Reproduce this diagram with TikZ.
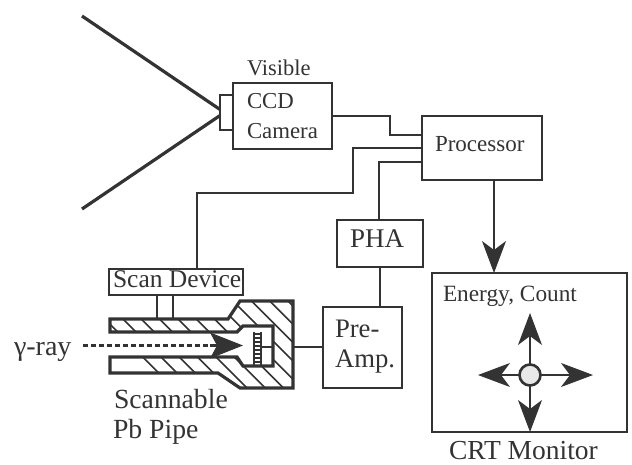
\documentclass[tikz,border=0pt]{standalone}
\usepackage{fontspec}
\setmainfont{Liberation Serif}
\usetikzlibrary{arrows.meta}
\definecolor{ink}{HTML}{333333}
\definecolor{txtc}{HTML}{333333}
\newcommand{\fs}[1]{\fontsize{#1}{#1}\selectfont}
\tikzset{
  boxn/.style={draw=ink,line width=2.6pt,rectangle,inner sep=0pt,outer sep=0pt},
  lbl/.style={inner sep=0pt,outer sep=0pt,anchor=base west,text=txtc},
  wire/.style={draw=ink,line width=2.2pt,line join=miter},
  bigarrow/.style={draw=ink,line width=2.6pt,-{Stealth[length=32pt,width=24pt,inset=9pt,fill=ink,line width=1pt]}},
  hatchl/.style={draw=ink,line width=1.6pt},
}
\begin{document}
\begin{tikzpicture}[x=1pt,y=-1pt]
\useasboundingbox (0,0) rectangle (632,464);
% boxes
\node[boxn,minimum width=99pt,minimum height=66pt] (cam) at (282.5,116) {};
\node[boxn,minimum width=13pt,minimum height=35pt,anchor=east] (lens) at (233,112.5) {};
\node[boxn,minimum width=120pt,minimum height=64pt] (proc) at (482,148) {};
\node[boxn,minimum width=86pt,minimum height=47pt] (pha) at (380,243.5) {};
\node[boxn,minimum width=79pt,minimum height=81pt] (pre) at (362.5,347.5) {};
\node[boxn,minimum width=195pt,minimum height=159pt] (crt) at (529.5,352.5) {};
\node[boxn,minimum width=134pt,minimum height=26pt] (scan) at (176,282) {};
% cone
\coordinate (c1) at (82,16);
\coordinate (c2) at (82,209);
\draw[ink,line width=3.2pt] (c1) -- ([yshift=3pt]lens.west);
\draw[ink,line width=3.2pt] (c2) -- ([yshift=-3pt]lens.west);
% wires
\draw[wire] (cam.east) -- (390,116) -- (390,135) -- ([yshift=13pt]proc.west);
\draw[wire] (proc.west) -- (353,148) -- (353,193) -- (197,193) -- (scan.north -| 197,0);
\draw[wire] ([yshift=-14pt]proc.west) -- (379,162) -- (pha.north -| 379,0);
\draw[wire] (pha.south) -- (pre.north -| pha.south);
% pipe
\coordinate (sa) at (157,295); \coordinate (sb) at (173,295);
\draw[wire] (sa) -- (157,319);
\draw[wire] (sb) -- (173,319);
\begin{scope}
\clip (110,319)--(228,319)--(240,301)--(293,301)--(293,388)--(240,388)--(218,373)--(110,373)--(110,357)--(237,357)--(243,366)--(273,366)--(273,326)--(243,326)--(237,332)--(110,332)--cycle;
\foreach \k in {-1,...,11}{
  \pgfmathsetmacro{\cc}{196-18.3*\k}
  \draw[hatchl] (100,100+\cc) -- (300,300+\cc);
}
\end{scope}
\draw[ink,line width=3.2pt,line join=miter] (110,319)--(228,319)--(240,301)--(293,301)--(293,388)--(240,388)--(218,373)--(110,373)--(110,357)--(237,357)--(243,366)--(273,366)--(273,326)--(243,326)--(237,332)--(110,332)--cycle;
% detector
\draw[ink,line width=2.4pt] (254,332)--(254,366);
\draw[ink,line width=1.2pt] (261,332)--(261,366);
\foreach \yy in {334,338,...,366}{\draw[ink,line width=1.6pt] (254,\yy)--(261,\yy);}
\coordinate (detr) at (261,347);
\coordinate (cavr) at (273,347);
\coordinate (headr) at (293,347);
\draw[wire] (detr) -- (cavr);
\draw[wire] (headr) -- (pre.west |- headr);
% gamma
\coordinate (g0) at (83,345.5);
\coordinate (g1) at (243,345.5);
\draw[ink,line width=2.2pt,dash pattern=on 5pt off 3pt] (g0) -- (215,345.5);
\draw[ink,line width=2.2pt,-{Stealth[length=33pt,width=26pt,inset=7pt,fill=ink,line width=1pt]}] (210,345.5) -- (g1);
% processor to crt
\coordinate (po) at (494,180);
\coordinate (pi) at (494,273);
\draw[bigarrow] (po) -- (pi);
% crosshair
\node[circle,draw=ink,line width=2.6pt,fill=gray!18,minimum size=21pt,inner sep=0pt,outer sep=0pt] (dot) at (530,375) {};
\coordinate (tu) at (530,313);
\coordinate (td) at (530,432);
\coordinate (tl) at (478,375);
\coordinate (tr) at (593,375);
\draw[bigarrow] (dot.north) -- (tu);
\draw[bigarrow] (dot.south) -- (td);
\draw[bigarrow] (dot.west) -- (tl);
\draw[bigarrow] (dot.east) -- (tr);
% text
\node[lbl,font=\fs{22.5}] (tvis) at (247,75) {Visible};
\node[lbl,font=\fs{22.8}] (tccd) at (247,108) {CCD};
\node[lbl,font=\fs{22.8}] (tcam) at (247,138) {Camera};
\node[lbl,font=\fs{23}] (tproc) at (435,151) {Processor};
\node[lbl,font=\fs{27}] (tpha) at (350,247) {PHA};
\node[lbl,font=\fs{26.7}] (tpre) at (335,337) {Pre-};
\node[lbl,font=\fs{26.7}] (tamp) at (335,367) {Amp.};
\node[lbl,font=\fs{25.5}] (tscan) at (113,287) {Scan Device};
\node[lbl,font=\fs{27.7}] (tscb) at (114,408) {Scannable};
\node[lbl,font=\fs{27.7}] (tpb) at (113,438) {Pb Pipe};
\node[lbl,font=\fs{28}] (tgam) at (14,355) {γ-ray};
\node[lbl,font=\fs{23.3}] (ten) at (443,301) {Energy, Count};
\node[lbl,font=\fs{27.5}] (tcrt) at (449,459) {CRT Monitor};
\end{tikzpicture}
\end{document}
